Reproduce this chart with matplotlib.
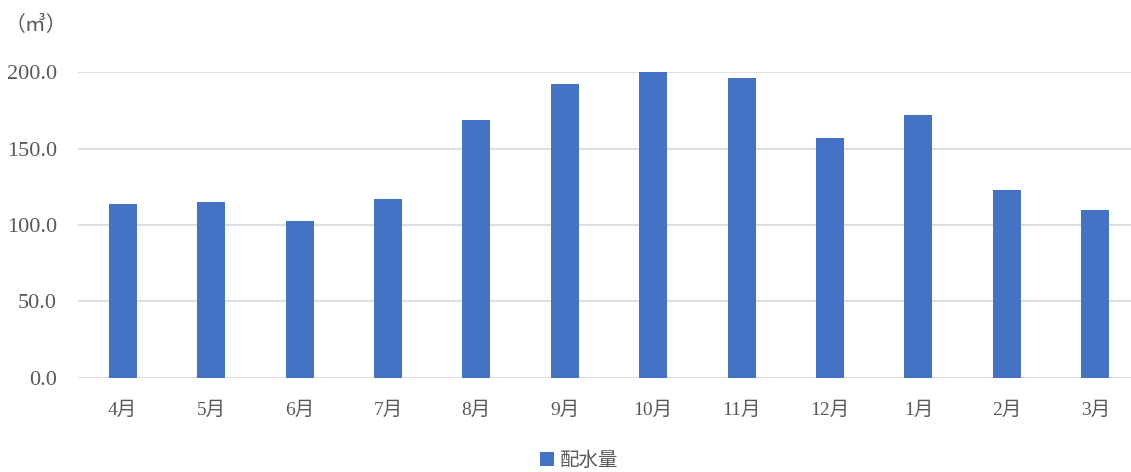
import matplotlib.pyplot as plt
from matplotlib.patches import Patch

months = ['4月', '5月', '6月', '7月', '8月', '9月', '10月', '11月', '12月', '1月', '2月', '3月']
water = [113.8, 114.9, 102.9, 116.9, 168.9, 192.2, 200.0, 196.0, 156.9, 172.0, 122.8, 110.1]
yticks = [0, 50, 100, 150, 200]

fams = ['Liberation Serif', 'Noto Sans CJK JP', 'DejaVu Sans']
plt.rcParams['font.family'] = fams
text_color = '#595959'
bar_color = '#4472C4'

fig = plt.figure(figsize=(11.31, 4.72), dpi=100)
# plot area runs a bit past the right edge, as in the reference
ax = fig.add_axes([0.0694, 0.1998, 0.9381, 0.647])

x = range(len(months))
ax.bar(x, water, width=0.317, color=bar_color, zorder=3)

ax.set_xlim(-0.5, len(months) - 0.5)
ax.set_ylim(0, 200)
ax.set_yticks(yticks)
ax.set_yticklabels([f'{v:.1f}' for v in yticks])
ax.set_xticks(list(x))
ax.set_xticklabels(months)

ax.grid(axis='y', color='#d9d9d9', linewidth=1.2, zorder=0)
ax.set_axisbelow(True)
for s in ax.spines.values():
    s.set_visible(False)
ax.tick_params(axis='y', length=0, pad=15.5, labelsize=16, labelcolor=text_color)
ax.tick_params(axis='x', length=0, pad=17, labelsize=14, labelcolor=text_color)

fig.text(0.004, 0.947, '（㎥）', fontsize=15, color=text_color, va='center', ha='left',
         family=['Noto Sans CJK JP', 'DejaVu Sans'])

handles = [Patch(facecolor=bar_color, label='配水量')]
fig.legend(handles=handles, loc='center', bbox_to_anchor=(0.512, 0.025), frameon=False,
           handlelength=0.7, handleheight=0.7, handletextpad=0.3,
           prop={'family': ['Noto Sans CJK JP'], 'size': 14}, labelcolor=text_color)

fig.savefig('out.png', dpi=100)
